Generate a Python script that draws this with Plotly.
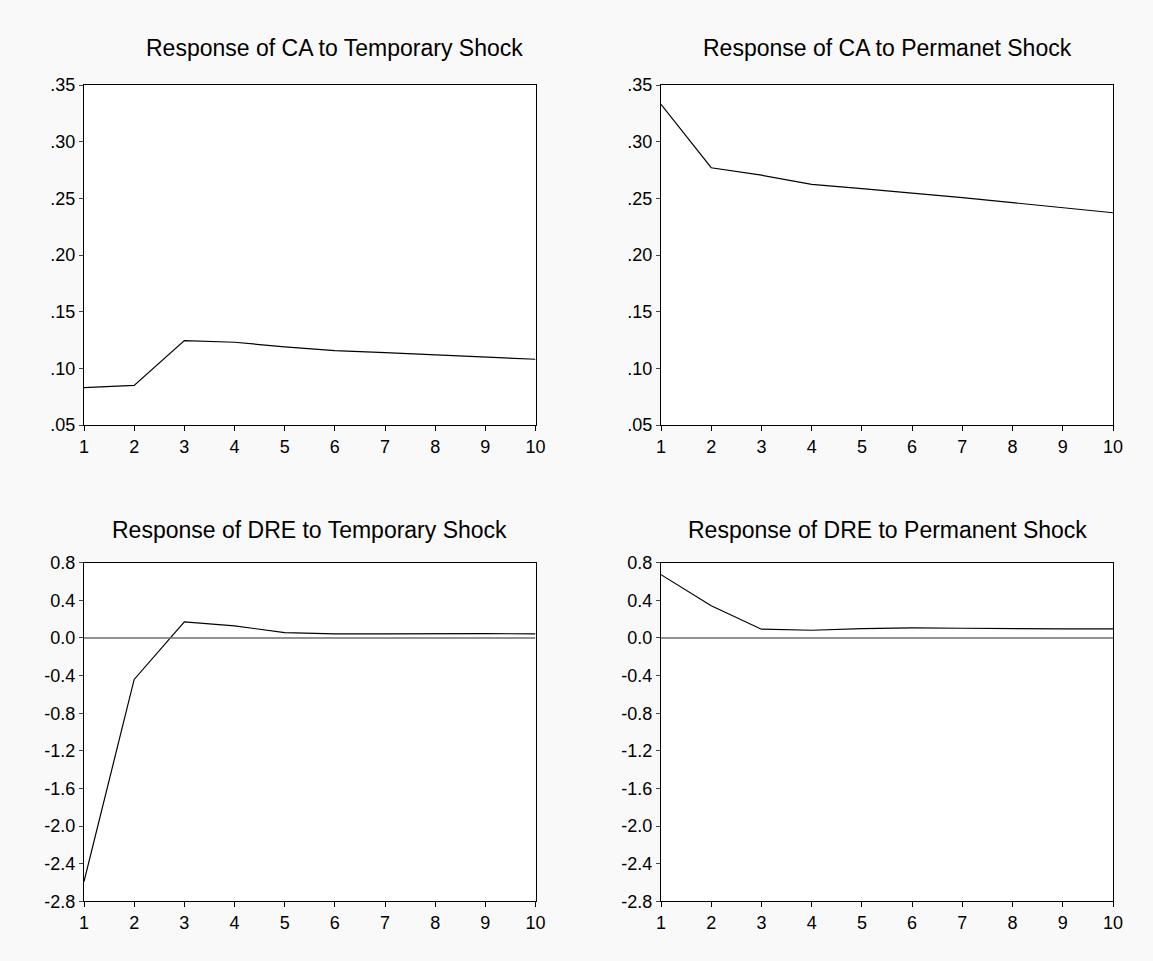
import plotly.graph_objects as go

# impulse responses
periods = [1, 2, 3, 4, 5, 6, 7, 8, 9, 10]
ca_temp = [0.083, 0.085, 0.1245, 0.123, 0.119, 0.1157, 0.1138, 0.112, 0.1103, 0.108]
ca_perm = [0.333, 0.277, 0.2704, 0.2624, 0.2586, 0.2547, 0.2506, 0.2462, 0.2417, 0.2373]
dre_temp = [-2.59, -0.441, 0.171, 0.128, 0.057, 0.043, 0.043, 0.046, 0.046, 0.043]
dre_perm = [0.673, 0.342, 0.093, 0.082, 0.100, 0.107, 0.103, 0.096, 0.096, 0.096]

titles = ["Response of CA to Temporary Shock", "Response of CA to Permanet Shock",
          "Response of DRE to Temporary Shock", "Response of DRE to Permanent Shock"]

ca_ticks = [0.05, 0.10, 0.15, 0.20, 0.25, 0.30, 0.35]
ca_labels = [".05", ".10", ".15", ".20", ".25", ".30", ".35"]
dre_ticks = [-2.8, -2.4, -2.0, -1.6, -1.2, -0.8, -0.4, 0.0, 0.4, 0.8]
dre_labels = ["-2.8", "-2.4", "-2.0", "-1.6", "-1.2", "-0.8", "-0.4", "0.0", "0.4", "0.8"]

W, H = 1153, 961
FONT = "Arial, Liberation Sans, sans-serif"

# panel frames in pixels: (left, right, top, bottom)
panels = [(84, 535.5, 85, 425), (661, 1113, 85, 425),
          (84, 535.5, 562.7, 901.3), (661, 1113, 562.7, 901.3)]
title_pos = [(334, 48), (887, 48), (309.5, 530), (887, 530)]

series = [ca_temp, ca_perm, dre_temp, dre_perm]

fig = go.Figure()
layout = dict(
    width=W, height=H, autosize=False,
    margin=dict(l=0, r=0, t=0, b=0, pad=0),
    paper_bgcolor="#f9f9f9",
    plot_bgcolor="white",
    showlegend=False,
    font=dict(family=FONT, color="black", size=18),
)

annotations = []
for i, ys in enumerate(series):
    n = "" if i == 0 else str(i + 1)
    fig.add_trace(go.Scatter(x=periods, y=ys, mode="lines",
                             line=dict(color="black", width=1.2),
                             xaxis="x" + n, yaxis="y" + n))
    l, r, t, b = panels[i]
    if i < 2:
        tv, tt, rng = ca_ticks, ca_labels, [0.05, 0.35]
    else:
        tv, tt, rng = dre_ticks, dre_labels, [-2.8, 0.8]
        # zero line
        fig.add_trace(go.Scatter(x=[1, 10], y=[0, 0], mode="lines",
                                 line=dict(color="#6e6e6e", width=1.5),
                                 xaxis="x" + n, yaxis="y" + n))
    layout["xaxis" + n] = dict(
        domain=[l / W, r / W], range=[1, 10], anchor="y" + n, automargin=False,
        tickvals=periods, ticktext=[str(p) for p in periods],
        ticks="outside", ticklen=5, tickcolor="black",
        showline=True, linecolor="black", linewidth=1, mirror=True,
        showgrid=False, zeroline=False, tickfont=dict(size=18))
    layout["yaxis" + n] = dict(
        domain=[1 - b / H, 1 - t / H], range=rng, anchor="x" + n, automargin=False,
        tickvals=tv, ticktext=tt,
        ticks="outside", ticklen=4, tickcolor="#444",
        showline=True, linecolor="black", linewidth=1, mirror=True,
        showgrid=False, zeroline=False, tickfont=dict(size=18))
    tx, ty = title_pos[i]
    annotations.append(dict(text=titles[i], xref="paper", yref="paper",
                            x=tx / W, y=1 - ty / H, xanchor="center", yanchor="middle",
                            showarrow=False, font=dict(size=23, family=FONT)))

layout["annotations"] = annotations
fig.update_layout(**layout)
fig.write_html("out.html", config={"displayModeBar": False},
               post_script="document.body.style.margin='0px';")
